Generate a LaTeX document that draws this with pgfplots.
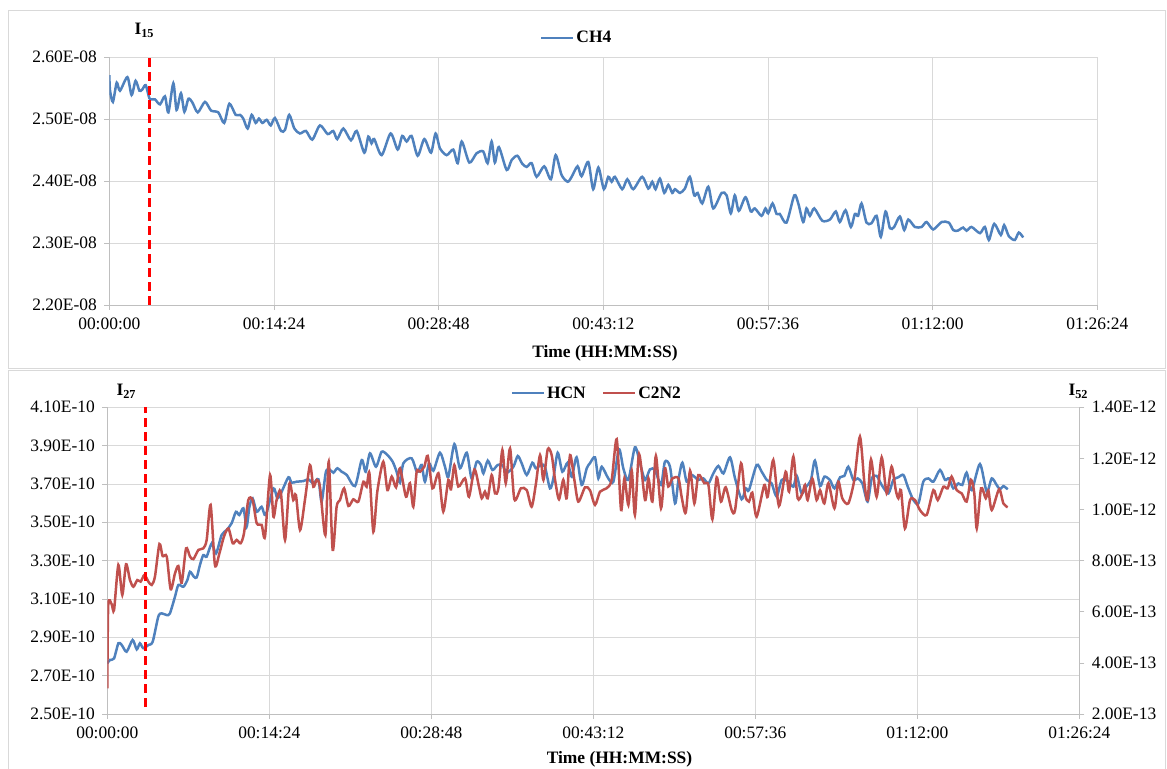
\documentclass[border=0pt]{standalone}
\usepackage{fontspec}
\setmainfont{Liberation Serif}
\usepackage{pgfplots}
\usepackage{pgfplotstable}
\pgfplotsset{compat=1.18}
\definecolor{xlblue}{RGB}{79,129,189}
\definecolor{xlred}{RGB}{192,80,77}
\definecolor{gridc}{RGB}{217,217,217}
\definecolor{axc}{RGB}{191,191,191}

\pgfplotstableread{
t v
0 2.571e-8
4 2.546e-8
19 2.528e-8
39 2.559e-8
56 2.546e-8
95 2.568e-8
117 2.539e-8
138 2.562e-8
158 2.546e-8
173 2.548e-8
191 2.555e-8
210 2.534e-8
222 2.532e-8
240 2.532e-8
266 2.524e-8
292 2.537e-8
310 2.511e-8
336 2.558e-8
353 2.515e-8
376 2.542e-8
394 2.512e-8
415 2.533e-8
436 2.527e-8
464 2.511e-8
502 2.528e-8
534 2.514e-8
572 2.511e-8
603 2.494e-8
630 2.525e-8
663 2.507e-8
686 2.507e-8
703 2.501e-8
726 2.485e-8
747 2.507e-8
768 2.494e-8
785 2.501e-8
803 2.494e-8
826 2.499e-8
847 2.490e-8
869 2.502e-8
901 2.481e-8
922 2.483e-8
944 2.507e-8
971 2.485e-8
1000 2.477e-8
1032 2.481e-8
1065 2.467e-8
1105 2.490e-8
1146 2.476e-8
1175 2.481e-8
1196 2.468e-8
1228 2.485e-8
1268 2.466e-8
1298 2.481e-8
1338 2.446e-8
1359 2.472e-8
1376 2.461e-8
1390 2.468e-8
1429 2.442e-8
1476 2.477e-8
1513 2.451e-8
1537 2.473e-8
1560 2.464e-8
1586 2.473e-8
1618 2.441e-8
1653 2.468e-8
1688 2.446e-8
1712 2.477e-8
1735 2.453e-8
1770 2.442e-8
1805 2.451e-8
1828 2.429e-8
1849 2.464e-8
1889 2.430e-8
1927 2.445e-8
1962 2.448e-8
1985 2.429e-8
2006 2.464e-8
2023 2.430e-8
2044 2.455e-8
2085 2.418e-8
2111 2.434e-8
2141 2.441e-8
2167 2.428e-8
2190 2.423e-8
2216 2.429e-8
2242 2.407e-8
2282 2.424e-8
2317 2.403e-8
2342 2.442e-8
2373 2.410e-8
2405 2.399e-8
2426 2.407e-8
2457 2.424e-8
2478 2.408e-8
2513 2.431e-8
2539 2.387e-8
2566 2.422e-8
2595 2.387e-8
2618 2.407e-8
2636 2.399e-8
2653 2.407e-8
2691 2.387e-8
2718 2.403e-8
2749 2.387e-8
2796 2.407e-8
2828 2.388e-8
2849 2.399e-8
2866 2.387e-8
2889 2.404e-8
2912 2.381e-8
2933 2.394e-8
2954 2.381e-8
2968 2.387e-8
2994 2.381e-8
3020 2.388e-8
3046 2.407e-8
3069 2.377e-8
3087 2.381e-8
3111 2.364e-8
3143 2.391e-8
3169 2.356e-8
3213 2.381e-8
3239 2.377e-8
3261 2.348e-8
3282 2.377e-8
3303 2.352e-8
3338 2.374e-8
3366 2.351e-8
3387 2.356e-8
3422 2.344e-8
3443 2.356e-8
3457 2.348e-8
3480 2.364e-8
3501 2.347e-8
3518 2.347e-8
3553 2.333e-8
3594 2.377e-8
3615 2.364e-8
3641 2.334e-8
3658 2.356e-8
3676 2.344e-8
3699 2.356e-8
3741 2.336e-8
3781 2.338e-8
3812 2.351e-8
3833 2.334e-8
3863 2.353e-8
3891 2.326e-8
3912 2.347e-8
3929 2.344e-8
3947 2.364e-8
3973 2.333e-8
3999 2.332e-8
4026 2.344e-8
4048 2.310e-8
4073 2.351e-8
4096 2.324e-8
4118 2.326e-8
4148 2.343e-8
4171 2.321e-8
4192 2.338e-8
4227 2.326e-8
4262 2.326e-8
4288 2.334e-8
4323 2.322e-8
4367 2.334e-8
4405 2.333e-8
4428 2.321e-8
4451 2.320e-8
4480 2.325e-8
4498 2.320e-8
4524 2.326e-8
4568 2.316e-8
4594 2.326e-8
4615 2.305e-8
4643 2.331e-8
4678 2.313e-8
4695 2.329e-8
4720 2.311e-8
4751 2.305e-8
4772 2.317e-8
4795 2.309e-8
}\chfour

\pgfplotstableread{
t v
0 2.764e-10
14 2.782e-10
36 2.790e-10
59 2.869e-10
77 2.860e-10
103 2.825e-10
135 2.886e-10
157 2.837e-10
174 2.869e-10
192 2.843e-10
219 2.860e-10
242 2.877e-10
272 3.008e-10
290 3.025e-10
317 3.016e-10
334 3.025e-10
361 3.112e-10
379 3.173e-10
406 3.164e-10
427 3.199e-10
441 3.242e-10
462 3.216e-10
477 3.213e-10
494 3.277e-10
512 3.329e-10
530 3.321e-10
557 3.390e-10
580 3.338e-10
610 3.434e-10
637 3.460e-10
663 3.495e-10
686 3.555e-10
704 3.538e-10
726 3.573e-10
743 3.477e-10
758 3.581e-10
775 3.625e-10
797 3.555e-10
823 3.581e-10
845 3.538e-10
886 3.677e-10
907 3.625e-10
930 3.660e-10
966 3.735e-10
983 3.707e-10
1010 3.712e-10
1046 3.715e-10
1072 3.724e-10
1099 3.703e-10
1126 3.724e-10
1143 3.608e-10
1166 3.764e-10
1188 3.773e-10
1206 3.759e-10
1227 3.782e-10
1250 3.764e-10
1277 3.747e-10
1321 3.689e-10
1357 3.825e-10
1378 3.764e-10
1401 3.860e-10
1433 3.790e-10
1463 3.868e-10
1494 3.851e-10
1522 3.816e-10
1543 3.764e-10
1561 3.707e-10
1579 3.808e-10
1623 3.834e-10
1650 3.764e-10
1662 3.773e-10
1677 3.799e-10
1694 3.712e-10
1716 3.808e-10
1739 3.769e-10
1774 3.863e-10
1801 3.790e-10
1819 3.738e-10
1851 3.908e-10
1881 3.782e-10
1917 3.863e-10
1943 3.729e-10
1970 3.816e-10
1993 3.799e-10
2006 3.755e-10
2029 3.822e-10
2054 3.773e-10
2082 3.799e-10
2107 3.799e-10
2130 3.759e-10
2166 3.790e-10
2189 3.846e-10
2210 3.808e-10
2237 3.747e-10
2267 3.811e-10
2285 3.782e-10
2313 3.799e-10
2334 3.790e-10
2361 3.677e-10
2379 3.729e-10
2402 3.863e-10
2427 3.764e-10
2455 3.811e-10
2477 3.738e-10
2503 3.839e-10
2530 3.695e-10
2557 3.782e-10
2574 3.808e-10
2601 3.839e-10
2619 3.729e-10
2637 3.790e-10
2672 3.729e-10
2699 3.712e-10
2729 3.881e-10
2752 3.782e-10
2779 3.721e-10
2814 3.891e-10
2841 3.808e-10
2868 3.721e-10
2894 3.776e-10
2921 3.773e-10
2953 3.695e-10
2974 3.816e-10
3001 3.790e-10
3028 3.599e-10
3046 3.721e-10
3067 3.811e-10
3090 3.712e-10
3117 3.747e-10
3152 3.721e-10
3179 3.729e-10
3206 3.703e-10
3232 3.755e-10
3259 3.794e-10
3286 3.755e-10
3321 3.839e-10
3348 3.729e-10
3383 3.620e-10
3405 3.677e-10
3422 3.668e-10
3463 3.799e-10
3490 3.764e-10
3517 3.721e-10
3543 3.703e-10
3570 3.634e-10
3597 3.721e-10
3632 3.712e-10
3659 3.686e-10
3677 3.742e-10
3703 3.651e-10
3730 3.689e-10
3753 3.721e-10
3774 3.822e-10
3801 3.689e-10
3824 3.738e-10
3854 3.721e-10
3878 3.677e-10
3908 3.735e-10
3931 3.742e-10
3952 3.790e-10
3979 3.721e-10
4002 3.729e-10
4027 3.703e-10
4055 3.608e-10
4077 3.729e-10
4103 3.742e-10
4130 3.695e-10
4166 3.651e-10
4192 3.721e-10
4219 3.735e-10
4246 3.747e-10
4269 3.686e-10
4299 3.616e-10
4326 3.599e-10
4352 3.712e-10
4379 3.729e-10
4406 3.712e-10
4441 3.773e-10
4468 3.721e-10
4489 3.729e-10
4512 3.677e-10
4539 3.703e-10
4560 3.695e-10
4583 3.759e-10
4610 3.668e-10
4654 3.804e-10
4690 3.660e-10
4717 3.729e-10
4743 3.695e-10
4761 3.672e-10
4779 3.689e-10
4802 3.672e-10
}\hcn

\pgfplotstableread{
t v
0 0.300e-12
5 0.626e-12
23 0.630e-12
36 0.607e-12
59 0.783e-12
80 0.666e-12
100 0.786e-12
121 0.724e-12
139 0.698e-12
160 0.724e-12
178 0.718e-12
198 0.744e-12
219 0.718e-12
237 0.705e-12
254 0.737e-12
278 0.865e-12
295 0.818e-12
317 0.816e-12
338 0.688e-12
361 0.750e-12
379 0.779e-12
397 0.714e-12
420 0.848e-12
441 0.816e-12
459 0.806e-12
486 0.842e-12
512 0.848e-12
530 0.881e-12
551 1.018e-12
574 0.783e-12
598 0.829e-12
622 0.894e-12
646 0.926e-12
669 0.868e-12
690 0.881e-12
711 0.868e-12
729 0.907e-12
752 1.037e-12
775 1.037e-12
797 0.946e-12
823 0.940e-12
841 0.894e-12
868 1.135e-12
886 0.972e-12
903 1.037e-12
925 1.070e-12
948 0.881e-12
971 1.100e-12
992 1.037e-12
1006 1.057e-12
1028 0.920e-12
1054 1.037e-12
1081 1.174e-12
1099 1.089e-12
1117 1.116e-12
1134 1.089e-12
1163 0.900e-12
1181 1.187e-12
1202 0.842e-12
1223 1.011e-12
1241 1.037e-12
1263 1.083e-12
1286 1.014e-12
1312 1.040e-12
1339 1.031e-12
1366 1.109e-12
1383 1.089e-12
1398 1.142e-12
1419 0.913e-12
1440 1.070e-12
1472 1.187e-12
1494 1.076e-12
1517 1.129e-12
1540 1.087e-12
1561 1.161e-12
1593 1.050e-12
1614 1.103e-12
1632 1.011e-12
1650 1.148e-12
1668 1.148e-12
1691 1.168e-12
1709 1.210e-12
1734 1.083e-12
1757 1.129e-12
1769 1.135e-12
1792 0.992e-12
1819 1.116e-12
1833 1.079e-12
1851 1.174e-12
1872 1.090e-12
1908 1.122e-12
1929 1.050e-12
1958 1.157e-12
1982 1.090e-12
1997 1.044e-12
2014 1.070e-12
2029 1.044e-12
2050 1.135e-12
2068 1.063e-12
2086 1.083e-12
2107 1.233e-12
2125 1.103e-12
2148 1.239e-12
2171 1.040e-12
2206 1.083e-12
2237 1.076e-12
2263 1.011e-12
2285 1.096e-12
2308 1.213e-12
2326 1.116e-12
2349 1.236e-12
2370 1.213e-12
2388 1.116e-12
2409 1.040e-12
2432 1.116e-12
2450 1.044e-12
2468 1.213e-12
2491 1.116e-12
2512 1.031e-12
2548 1.087e-12
2574 1.076e-12
2601 1.018e-12
2628 1.070e-12
2663 1.083e-12
2690 1.116e-12
2717 1.275e-12
2740 0.998e-12
2758 1.122e-12
2779 1.018e-12
2797 1.152e-12
2814 0.979e-12
2836 1.217e-12
2868 1.037e-12
2886 1.122e-12
2907 1.031e-12
2926 1.210e-12
2953 1.005e-12
2974 1.161e-12
2992 1.090e-12
3014 1.122e-12
3046 1.122e-12
3063 1.050e-12
3085 0.988e-12
3108 1.152e-12
3131 1.024e-12
3152 1.135e-12
3184 1.103e-12
3206 1.096e-12
3227 0.962e-12
3250 1.126e-12
3273 1.031e-12
3298 1.087e-12
3330 0.998e-12
3348 0.998e-12
3380 1.181e-12
3401 1.057e-12
3422 1.031e-12
3440 1.066e-12
3463 0.972e-12
3504 1.096e-12
3522 1.050e-12
3552 1.194e-12
3582 1.014e-12
3618 1.148e-12
3636 1.070e-12
3659 1.207e-12
3682 1.044e-12
3707 1.063e-12
3721 1.096e-12
3735 1.037e-12
3760 1.121e-12
3783 1.037e-12
3801 1.076e-12
3824 1.024e-12
3846 1.103e-12
3878 1.005e-12
3899 1.109e-12
3920 1.044e-12
3952 1.024e-12
3984 1.116e-12
4014 1.285e-12
4038 1.103e-12
4055 1.037e-12
4073 1.196e-12
4103 1.050e-12
4130 1.204e-12
4157 1.063e-12
4183 1.168e-12
4205 1.076e-12
4219 1.044e-12
4233 1.076e-12
4254 0.926e-12
4281 1.037e-12
4308 1.037e-12
4334 0.998e-12
4370 0.979e-12
4406 1.076e-12
4429 1.037e-12
4459 1.089e-12
4482 1.083e-12
4503 1.129e-12
4530 1.076e-12
4557 1.063e-12
4583 1.031e-12
4606 1.116e-12
4624 1.063e-12
4637 0.926e-12
4660 1.083e-12
4685 1.044e-12
4699 1.074e-12
4717 0.998e-12
4756 1.079e-12
4779 1.024e-12
4802 1.009e-12
}\ctwontwo

\pgfplotsset{
  xlcommon/.style={
    scale only axis, anchor=south west,
    xmin=0, xmax=5184,
    scaled x ticks=false, scaled y ticks=false,
    tick label style={font=\fontsize{17.5}{20}\selectfont, text=black},
    tick align=outside, major tick length=5bp,
    tick style={axc, line width=0.75bp},
    axis line style={axc, line width=0.75bp},
  },
  xlx/.style={
    xtick={0,864,1728,2592,3456,4320,5184},
    xticklabels={00:00:00,00:14:24,00:28:48,00:43:12,00:57:36,01:12:00,01:26:24},
    xticklabel style={yshift=-4bp},
    yticklabel style={xshift=-4bp},
    major grid style={gridc, line width=0.75bp},
    grid=major,
    axis lines*=left,
    legend style={draw=none, fill=none, anchor=center,
      font=\bfseries\fontsize{17.5}{20}\selectfont, legend columns=-1,
      /tikz/every even column/.append style={column sep=14bp}},
    legend image code/.code={\draw[##1, line width=2.5bp] (0bp,0bp) -- (32bp,0bp);},
  },
  bluel/.style={xlblue, line width=2.5bp, smooth, tension=0.45},
  redl/.style={xlred, line width=2.5bp, smooth, tension=0.45},
  dashl/.style={color={rgb,255:red,255;green,0;blue,0}, line width=2.5bp, dash pattern=on 9bp off 5bp, forget plot},
}

\begin{document}
\begin{tikzpicture}
\path[use as bounding box] (0,0) rectangle (1167bp,769bp);
\draw[gridc, line width=1bp] (8.5bp,400.5bp) rectangle (1165.5bp,758.5bp);
\draw[gridc, line width=1bp] (8.5bp,-2bp) rectangle (1165.5bp,398bp);

% ---- top panel: CH4
\begin{axis}[xlcommon, xlx,
  at={(109.3bp,464bp)}, width=988bp, height=247.7bp,
  ymin=2.2e-8, ymax=2.6e-8,
  ytick={2.2e-8,2.3e-8,2.4e-8,2.5e-8,2.6e-8},
  yticklabels={2.20E-08,2.30E-08,2.40E-08,2.50E-08,2.60E-08},
  legend style={at={(0.473,1.078)}},
]
\addplot[bluel] table[x=t,y=v]{\chfour};
\addlegendentry{CH4}
\addplot[dashl] coordinates {(212,2.2e-8) (212,2.6e-8)};
\end{axis}

% ---- bottom panel: HCN (left axis)
\begin{axis}[xlcommon, xlx,
  at={(107.3bp,55bp)}, width=972bp, height=306.7bp,
  ymin=2.5e-10, ymax=4.1e-10,
  ytick={2.5e-10,2.7e-10,2.9e-10,3.1e-10,3.3e-10,3.5e-10,3.7e-10,3.9e-10,4.1e-10},
  yticklabels={2.50E-10,2.70E-10,2.90E-10,3.10E-10,3.30E-10,3.50E-10,3.70E-10,3.90E-10,4.10E-10},
  legend style={at={(0.5035,1.0466)}},
]
\addplot[bluel] table[x=t,y=v]{\hcn};
\addlegendentry{HCN}
\addlegendimage{xlred, line width=2.5bp}
\addlegendentry{C2N2}
\end{axis}

% ---- bottom panel: C2N2 (right axis)
\begin{axis}[xlcommon,
  at={(107.3bp,55bp)}, width=972bp, height=306.7bp,
  ymin=2e-13, ymax=1.4e-12,
  axis x line=none, axis y line*=right,
  ytick={2e-13,4e-13,6e-13,8e-13,1e-12,1.2e-12,1.4e-12},
  yticklabels={2.00E-13,4.00E-13,6.00E-13,8.00E-13,1.00E-12,1.20E-12,1.40E-12},
  yticklabel style={xshift=4bp},
]
\addplot[redl] table[x=t,y=v]{\ctwontwo};
\addplot[dashl] coordinates {(205,2.27e-13) (205,1.4e-12)};
\end{axis}

% ---- texts
\node[anchor=base west, font=\bfseries\fontsize{17.5}{20}\selectfont] at (131bp,734bp) {I\textsubscript{15}};
\node[anchor=base west, font=\bfseries\fontsize{17.5}{20}\selectfont] at (113bp,373bp) {I\textsubscript{27}};
\node[anchor=base west, font=\bfseries\fontsize{17.5}{20}\selectfont] at (1065bp,373bp) {I\textsubscript{52}};
\node[anchor=base, font=\bfseries\fontsize{17.5}{20}\selectfont] at (605bp,411bp) {Time (HH:MM:SS)};
\node[anchor=base, font=\bfseries\fontsize{17.5}{20}\selectfont] at (619.5bp,6bp) {Time (HH:MM:SS)};
\end{tikzpicture}
\end{document}
